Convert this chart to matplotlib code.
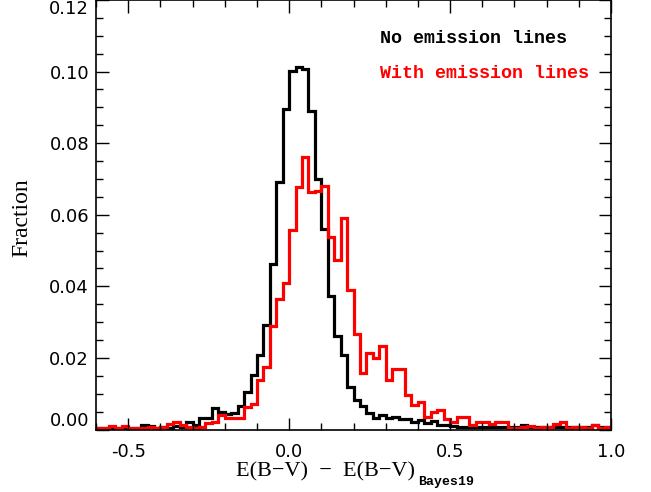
import numpy as np
import matplotlib
matplotlib.use("Agg")
import matplotlib.pyplot as plt
from matplotlib.ticker import MultipleLocator, FormatStrFormatter

# Histogram bins: [-0.60, 1.00] in steps of 0.02 (80 bins)
bin_lo = -0.60
bin_hi = 1.00
n_bins = 80

no_emission = [
    0.0005, 0.0005, 0.0005, 0.0003, 0.0005, 0.0005, 0.0005, 0.0012, 0.0010, 0.0005,
    0.0008, 0.0005, 0.0010, 0.0008, 0.0022, 0.0013, 0.0031, 0.0033, 0.0060, 0.0048,
    0.0042, 0.0045, 0.0066, 0.0104, 0.0151, 0.0209, 0.0291, 0.0463, 0.0691, 0.0896,
    0.1003, 0.1012, 0.1006, 0.0889, 0.0701, 0.0560, 0.0373, 0.0260, 0.0207, 0.0120,
    0.0083, 0.0066, 0.0045, 0.0032, 0.0040, 0.0033, 0.0036, 0.0029, 0.0030, 0.0020,
    0.0027, 0.0017, 0.0025, 0.0012, 0.0012, 0.0010, 0.0008, 0.0007, 0.0007, 0.0006,
    0.0007, 0.0006, 0.0007, 0.0006, 0.0007, 0.0007, 0.0012, 0.0007, 0.0006, 0.0007,
    0.0006, 0.0007, 0.0006, 0.0007, 0.0006, 0.0007, 0.0006, 0.0012, 0.0007, 0.0006,
]

with_emission = [
    0.0003, 0.0005, 0.0010, 0.0005, 0.0010, 0.0005, 0.0005, 0.0005, 0.0008, 0.0005,
    0.0008, 0.0015, 0.0020, 0.0012, 0.0008, 0.0003, 0.0008, 0.0017, 0.0022, 0.0041,
    0.0031, 0.0031, 0.0031, 0.0064, 0.0072, 0.0139, 0.0176, 0.0288, 0.0366, 0.0410,
    0.0558, 0.0677, 0.0761, 0.0663, 0.0667, 0.0681, 0.0539, 0.0473, 0.0590, 0.0389,
    0.0267, 0.0159, 0.0214, 0.0200, 0.0232, 0.0137, 0.0170, 0.0170, 0.0095, 0.0068,
    0.0076, 0.0035, 0.0050, 0.0055, 0.0030, 0.0020, 0.0036, 0.0036, 0.0012, 0.0022,
    0.0022, 0.0015, 0.0022, 0.0022, 0.0004, 0.0004, 0.0006, 0.0010, 0.0005, 0.0007,
    0.0007, 0.0015, 0.0020, 0.0005, 0.0007, 0.0007, 0.0005, 0.0012, 0.0005, 0.0007,
]

labels = ["No emission lines", "With emission lines"]
colors = ["black", "red"]

edges = np.linspace(bin_lo, bin_hi, n_bins + 1)

fig = plt.figure(figsize=(6.51, 4.92), dpi=100)
ax = fig.add_axes([96 / 651, (492 - 429.5) / 492, 515 / 651, 429.5 / 492])

ax.stairs(no_emission, edges, color=colors[0], lw=2.3, baseline=None)
ax.stairs(with_emission, edges, color=colors[1], lw=2.3, baseline=None)

ax.set_xlim(-0.6, 1.0)
ax.set_ylim(0.0, 0.12)

ax.xaxis.set_major_locator(MultipleLocator(0.5))
ax.xaxis.set_minor_locator(MultipleLocator(0.1))
ax.yaxis.set_major_locator(MultipleLocator(0.02))
ax.yaxis.set_minor_locator(MultipleLocator(0.005))
ax.xaxis.set_major_formatter(FormatStrFormatter("%.1f"))
ax.yaxis.set_major_formatter(FormatStrFormatter("%.2f"))

ax.tick_params(which="both", direction="in", top=True, right=True, width=1.0,
               labelsize=13)
ax.tick_params(which="major", length=9)
ax.tick_params(which="minor", length=5)
ax.tick_params(axis="x", pad=10)
ax.tick_params(axis="y", pad=5)
for sp in ax.spines.values():
    sp.set_linewidth(1.2)

for lab in ax.get_xticklabels() + ax.get_yticklabels():
    lab.set_fontfamily("DejaVu Sans")

fig.canvas.draw()
ylabs = ax.get_yticklabels()
for lab in ylabs:
    if lab.get_text() == "0.12":
        lab.set_va("top")
    elif lab.get_text() == "0.00":
        lab.set_va("bottom")

# legend texts
ax.text(0.551, 0.9115, labels[0], transform=ax.transAxes, color=colors[0],
        fontfamily="Liberation Mono", fontweight="bold", fontsize=13.2, va="center")
ax.text(0.551, 0.83, labels[1], transform=ax.transAxes, color=colors[1],
        fontfamily="Liberation Mono", fontweight="bold", fontsize=13.2, va="center")

# axis labels
fig.text(415 / 651, (492 - 476) / 492, "E(B\u2212V)  \u2212  E(B\u2212V)",
         ha="right", va="baseline", fontfamily="Liberation Serif", fontsize=16)
fig.text(418 / 651, (492 - 485) / 492, "Bayes19", ha="left", va="baseline",
         fontfamily="Liberation Mono", fontweight="bold", fontsize=9.5)
fig.text(22 / 651, (492 - 218) / 492, "Fraction", rotation=90, ha="center",
         va="center", fontfamily="Liberation Serif", fontsize=17)

fig.savefig("out.png", dpi=100)
